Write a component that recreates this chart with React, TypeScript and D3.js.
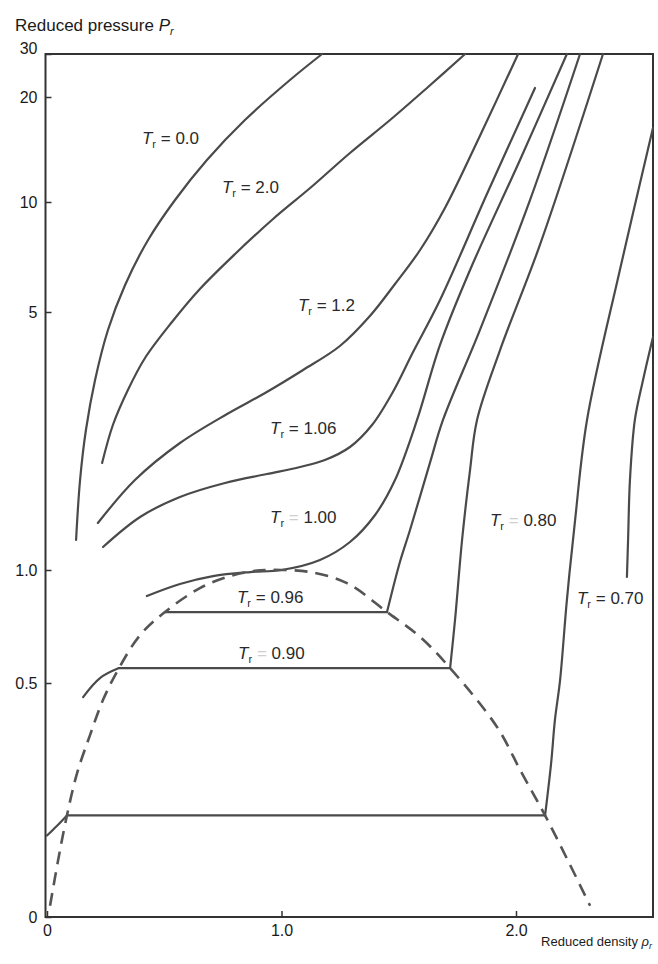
import React, { useEffect, useRef } from "react";
import * as d3 from "d3";

type Pt = [number, number];

// axis ticks (reduced pressure axis is drawn on a stretched, non-linear scale)
const yTicks = [0, 0.5, 1, 5, 10, 20, 30];
const yTickLabels = ["0", "0.5", "1.0", "5", "10", "20", "30"];
const xTicks = [0, 1, 2];
const xTickLabels = ["0", "1.0", "2.0"];

// isotherms: [reduced density, reduced pressure]
const tr00: Pt[] = [[0.124, 1.465], [0.141, 2.395], [0.166, 3.171], [0.205, 3.946], [0.26, 4.721], [0.333, 6.228], [0.431, 8.273], [0.546, 10.19], [0.682, 14.0], [0.844, 17.81], [1.036, 23.95], [1.173, 30]];
const tr20: Pt[] = [[0.235, 2.659], [0.281, 3.248], [0.345, 3.791], [0.418, 4.287], [0.533, 4.845], [0.652, 6.046], [0.802, 7.637], [0.964, 9.227], [1.122, 11.33], [1.292, 14.67], [1.463, 17.81], [1.625, 22.33], [1.783, 30]];
const tr12: Pt[] = [[0.217, 1.729], [0.375, 2.395], [0.567, 2.969], [0.768, 3.419], [0.93, 3.744], [1.092, 4.101], [1.249, 4.473], [1.377, 4.938], [1.484, 6.273], [1.591, 7.818], [1.697, 9.727], [1.846, 16.29], [2.009, 30]];
const tr106: Pt[] = [[0.239, 1.357], [0.397, 1.822], [0.567, 2.132], [0.759, 2.349], [0.938, 2.488], [1.079, 2.597], [1.185, 2.705], [1.292, 2.907], [1.386, 3.248], [1.475, 3.76], [1.561, 4.38], [1.676, 5.545], [1.876, 10.76], [2.081, 22.09]];
const tr100: Pt[] = [[0.426, 0.885], [0.567, 0.938], [0.708, 0.973], [0.866, 0.991], [1.0, 1.0], [1.164, 1.155], [1.292, 1.434], [1.399, 1.853], [1.484, 2.395], [1.578, 3.326], [1.676, 4.49], [1.804, 6.91], [2.017, 14.0], [2.217, 30]];

const tr096Vapor: Pt[] = [[0.503, 0.814]];
const tr096Liquid: Pt[] = [[1.45, 0.814], [1.505, 1.124], [1.548, 1.62], [1.633, 2.66], [1.689, 3.33], [1.846, 4.72], [2.06, 10.2], [2.273, 30]];
const tr090Vapor: Pt[] = [[0.154, 0.47], [0.226, 0.522], [0.307, 0.566]];
const tr090Liquid: Pt[] = [[1.719, 0.566], [1.74, 0.779], [1.77, 1.465], [1.804, 2.55], [1.834, 3.33], [1.932, 4.41], [2.102, 8.05], [2.371, 30]];
const tr080Vapor: Pt[] = [[0.0, 0.174], [0.043, 0.195], [0.085, 0.217]];
const tr080Liquid: Pt[] = [[2.124, 0.217], [2.15, 0.33], [2.166, 0.421], [2.188, 0.513], [2.217, 0.867], [2.252, 1.775], [2.303, 3.33], [2.443, 6.91], [2.584, 17.05]];
const tr070Liquid: Pt[] = [[2.584, 4.61], [2.542, 3.95], [2.507, 3.33], [2.486, 2.4], [2.478, 1.47], [2.473, 0.969]];

// saturation dome (dashed)
const dome: Pt[] = [[0.013, 0.024], [0.047, 0.12], [0.085, 0.217], [0.128, 0.307], [0.183, 0.388], [0.239, 0.464], [0.307, 0.566], [0.397, 0.712], [0.503, 0.814], [0.652, 0.92], [0.78, 0.973], [0.887, 0.996], [1.0, 1.0], [1.122, 0.991], [1.279, 0.942], [1.45, 0.814], [1.591, 0.704], [1.719, 0.566], [1.919, 0.406], [2.021, 0.311], [2.124, 0.217], [2.222, 0.12], [2.316, 0.024]];

const isothermLabels = ["0.0", "2.0", "1.2", "1.06", "1.00", "0.96", "0.90", "0.80", "0.70"];

function App() {
  const svgRef = useRef<SVGSVGElement>(null);

  useEffect(() => {
    const WIDTH = 658;
    const HEIGHT = 964;
    const FONT = "'Liberation Sans', Arial, Helvetica, sans-serif";
    const INK = "#4a4a4a";

    const svg = d3.select(svgRef.current).attr("width", WIDTH).attr("height", HEIGHT);
    svg.selectAll("*").remove();
    svg.append("rect").attr("width", WIDTH).attr("height", HEIGHT).attr("fill", "#fff");

    const x = d3.scaleLinear().domain([0, 2]).range([47, 516]);
    // piecewise scale, as printed
    const y = d3.scaleLinear().domain(yTicks).range([917, 683, 570, 312, 202, 97, 54]);

    // frame
    svg.append("rect")
      .attr("x", 45.5).attr("y", 54)
      .attr("width", 653 - 45.5).attr("height", 917 - 54)
      .attr("fill", "none").attr("stroke", "#333").attr("stroke-width", 2);

    const yAxis = svg.append("g")
      .attr("transform", "translate(45.5,0)")
      .call(d3.axisLeft(y).tickValues(yTicks).tickFormat((d, i) => yTickLabels[i]).tickSizeInner(-6).tickSizeOuter(0).tickPadding(8));
    yAxis.select(".domain").remove();
    yAxis.selectAll("line").attr("stroke", "#333").attr("stroke-width", 1.5);
    yAxis.selectAll("text")
      .attr("font-family", FONT).attr("font-size", 16).attr("fill", "#1a1a1a")
      .attr("dy", (d) => (d === 30 ? "-0.05em" : "0.32em"));

    const xAxis = svg.append("g")
      .attr("transform", "translate(0,917)")
      .call(d3.axisBottom(x).tickValues(xTicks).tickFormat((d, i) => xTickLabels[i]).tickSizeInner(-6).tickSizeOuter(0).tickPadding(8));
    xAxis.select(".domain").remove();
    xAxis.selectAll("line").attr("stroke", "#333").attr("stroke-width", 1.5);
    xAxis.selectAll("text").attr("font-family", FONT).attr("font-size", 16).attr("fill", "#1a1a1a");

    // axis titles
    const yTitle = svg.append("text").attr("x", 15).attr("y", 31)
      .attr("font-family", FONT).attr("font-size", 17).attr("fill", "#1a1a1a");
    yTitle.append("tspan").text("Reduced pressure ");
    yTitle.append("tspan").attr("font-style", "italic").text("P");
    yTitle.append("tspan").attr("font-size", 11).attr("dy", 4).attr("font-style", "italic").text("r");

    const xTitle = svg.append("text").attr("x", 652).attr("y", 946).attr("text-anchor", "end")
      .attr("font-family", FONT).attr("font-size", 13).attr("fill", "#1a1a1a");
    xTitle.append("tspan").text("Reduced density ");
    xTitle.append("tspan").attr("font-style", "italic").text("ρ");
    xTitle.append("tspan").attr("font-size", 9).attr("dy", 3).attr("font-style", "italic").text("r");

    const smooth = d3.line<Pt>().x((d) => x(d[0])).y((d) => y(d[1])).curve(d3.curveCatmullRom.alpha(0.5));
    const straight = d3.line<Pt>().x((d) => x(d[0])).y((d) => y(d[1]));

    const curves = [tr00, tr20, tr12, tr106, tr100, tr090Vapor, tr080Vapor, tr096Liquid, tr090Liquid, tr080Liquid, tr070Liquid];
    svg.append("g").selectAll("path").data(curves).join("path")
      .attr("d", (d) => smooth(d))
      .attr("fill", "none").attr("stroke", INK).attr("stroke-width", 2.2).attr("stroke-linecap", "round");

    // two-phase tie lines
    const tieLines: Pt[][] = [
      [tr096Vapor[tr096Vapor.length - 1], tr096Liquid[0]],
      [tr090Vapor[tr090Vapor.length - 1], tr090Liquid[0]],
      [tr080Vapor[tr080Vapor.length - 1], tr080Liquid[0]],
    ];
    svg.append("g").selectAll("path").data(tieLines).join("path")
      .attr("d", (d) => straight(d))
      .attr("fill", "none").attr("stroke", INK).attr("stroke-width", 2.2).attr("stroke-linecap", "round");

    svg.append("path").attr("d", smooth(dome))
      .attr("fill", "none").attr("stroke", "#555").attr("stroke-width", 2.6).attr("stroke-dasharray", "13 8");

    // isotherm labels, anchored in data units
    const labelAt: Pt[] = [[0.405, 15.5], [0.746, 10.86], [1.07, 5.05], [0.951, 3.11], [0.951, 1.73], [0.81, 0.854], [0.815, 0.606], [1.889, 1.68], [2.26, 0.85]];
    const fadedEquals = ["1.00", "0.90", "0.80"];
    isothermLabels.forEach((v, i) => {
      const t = svg.append("text")
        .attr("x", x(labelAt[i][0])).attr("y", y(labelAt[i][1]))
        .attr("font-family", FONT).attr("font-size", 17).attr("fill", "#2a2a2a");
      t.append("tspan").attr("font-style", "italic").text("T");
      t.append("tspan").attr("font-size", 11).attr("dy", 4).text("r");
      t.append("tspan").attr("dy", -4).attr("fill", fadedEquals.includes(v) ? "#cfcfcf" : "#2a2a2a").text(" = ");
      t.append("tspan").text(v);
    });
  }, []);

  return (
    <svg ref={svgRef} style={{ position: "absolute", left: 0, top: 0 }}></svg>
  );
}

export default App;
